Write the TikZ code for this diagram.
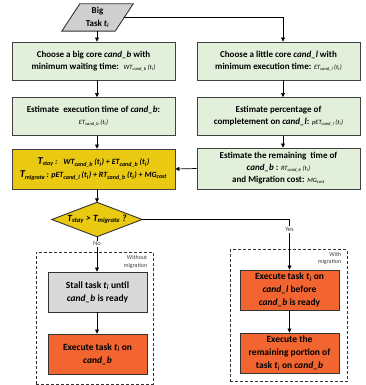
\documentclass[tikz,border=0pt]{standalone}
\usepackage{fontspec}
\setmainfont{Carlito}
\usetikzlibrary{arrows.meta,calc}
\definecolor{boxgreen}{HTML}{E2EFDA}
\definecolor{boxyellow}{HTML}{E9C912}
\definecolor{boxorange}{HTML}{F26430}
\definecolor{boxgray}{HTML}{D9D9D9}
\definecolor{paragray}{HTML}{D0CECE}
\newcommand{\fml}[1]{{\fontsize{6.5}{7}\selectfont\mdseries\itshape #1}}
\newcommand{\sbt}[1]{\textsubscript{#1}}
\begin{document}
\begin{tikzpicture}[x=1pt,y=-1pt,
  box/.style={draw=black!75, line width=0.9pt, fill=#1, minimum width=163pt, minimum height=38pt,
    align=center, inner sep=1pt, font=\fontsize{9}{12}\selectfont\bfseries},
  sbox/.style={draw=black!80, line width=0.9pt, fill=#1, minimum width=99pt, minimum height=40pt,
    align=center, inner sep=1pt, font=\fontsize{9.5}{13}\selectfont\bfseries},
  arr/.style={-{Triangle[length=4pt,width=4pt]}, line width=0.7pt},
  lbl/.style={fill=white, inner sep=1pt, font=\fontsize{6.5}{7}\selectfont, text=black!75},
  grp/.style={draw=black!80, dash pattern=on 3pt off 2pt, line width=0.8pt, minimum width=117pt, minimum height=132pt},
  grplbl/.style={anchor=north east, align=right, inner sep=1pt, font=\fontsize{6}{7.5}\selectfont, text=black!75}
]
\useasboundingbox (0,0) rectangle (366,385);

% start parallelogram
\node[minimum width=71pt, minimum height=27pt, inner sep=0pt] (task) at (97.5,17.5) {};
\draw[line width=0.9pt, draw=black!80, fill=paragray]
  (task.south west) -- ($(task.north west)+(18,0)$) -- (task.north east) -- ($(task.south east)+(-18,0)$) -- cycle;
\node[align=center, font=\fontsize{9}{13}\selectfont\bfseries] (tasktxt) at (task.center) {Big\\Task \textit{t}\sbt{\textit{i}}};
\coordinate (tr) at ($(task.east)+(-9,0)$);

\coordinate (lc) at (97,0);
\coordinate (rc) at (283,0);

% boxes
\node[box=boxgreen] (b1) at (93.5,61) {Choose a big core \textit{cand\_b} with\\minimum waiting time:~ \fml{WT\sbt{cand\_b}\,(t\sbt{i})}};
\node[box=boxgreen] (b2) at (278.5,61) {Choose a little core \textit{cand\_l} with\\minimum execution time: \fml{ET\sbt{cand\_l}\,(t\sbt{i})}};
\node[box=boxgreen] (b3) at (93.5,116.5) {Estimate~ execution time of \textit{cand\_b}:\\\fml{ET\sbt{cand\_b}\,(t\sbt{i})}};
\node[box=boxgreen] (b4) at (278.5,116.5) {Estimate percentage of\\completement on \textit{cand\_l}: \fml{pET\sbt{cand\_l}\,(t\sbt{i})}};
\node[box=boxgreen, minimum height=41pt] (b5) at (278.5,168.5) {Estimate the remaining~ time of\\\textit{cand\_b} : \fml{RT\sbt{cand\_b}\,(t\sbt{i})}\\and Migration cost: \fml{MG\sbt{cost}}};
\node[box=boxyellow, minimum height=40pt, font=\fontsize{8}{13}\selectfont\bfseries\itshape] (yel) at (93.5,169)
  {{\fontsize{10.5}{13}\selectfont T}\sbt{stay}\,:~~ WT\sbt{cand\_b}\,(t\sbt{i}) + ET\sbt{cand\_b}\,(t\sbt{i})\\
   {\fontsize{10.5}{13}\selectfont T}\sbt{migrate}\,: pET\sbt{cand\_l}\,(t\sbt{i}) + RT\sbt{cand\_b}\,(t\sbt{i}) + MG\sbt{cost}};

% decision
\node[minimum width=90pt, minimum height=34pt, inner sep=0pt] (dec) at (97,219.5) {};
\draw[line width=0.9pt, draw=black!80, fill=boxyellow] (dec.north) -- (dec.east) -- (dec.south) -- (dec.west) -- cycle;
\node[font=\fontsize{9.5}{11}\selectfont\bfseries\itshape] (dectxt) at (dec.center)
  {T\sbt{stay} > T\sbt{migrate} ?};

% groups
\node[grp] (gl) at (94.5,318) {};
\node[grp] (gr) at (288.5,315.5) {};
\node[grplbl] (gll) at ($(gl.north east)+(-5,3)$) {Without\\migration};
\node[grplbl] (grl) at ($(gr.north east)+(-5,2)$) {With\\migration};

% bottom boxes
\node[sbox=boxgray] (stall) at (97.5,292) {Stall task \textit{t}\sbt{\textit{i}} until\\\textit{cand\_b} is ready};
\node[sbox=boxorange] (exb) at (97.5,354) {Execute task \textit{t}\sbt{\textit{i}} on\\\textit{cand\_b}};
\node[sbox=boxorange] (exl) at (289.5,290) {Execute task \textit{t}\sbt{\textit{i}} on\\\textit{cand\_l} before\\\textit{cand\_b} is ready};
\node[sbox=boxorange] (rem) at (289.5,353) {Execute the\\remaining portion of\\task \textit{t}\sbt{\textit{i}} on \textit{cand\_b}};

% connectors
\draw[arr] (lc |- task.south) -- (lc |- b1.north);
\draw[arr] (tr) -| (rc |- b2.north);
\draw[arr] (lc |- b1.south) -- (lc |- b3.north);
\draw[arr] (rc |- b2.south) -- (rc |- b4.north);
\draw[arr] (lc |- b3.south) -- (lc |- yel.north);
\draw[arr] (rc |- b4.south) -- (rc |- b5.north);
\draw[arr] (b5.west) -- (yel.east);
\draw[arr] (lc |- yel.south) -- (dec.north);
\draw[arr] (dec.south) -- node[lbl, pos=0.2] {No} (lc |- stall.north);
\draw[arr] (dec.east) -| node[lbl, pos=0.6] {Yes} (exl.north);
\draw[arr] (lc |- stall.south) -- (lc |- exb.north);
\draw[arr] (exl.south) -- (rem.north);
\end{tikzpicture}
\end{document}
